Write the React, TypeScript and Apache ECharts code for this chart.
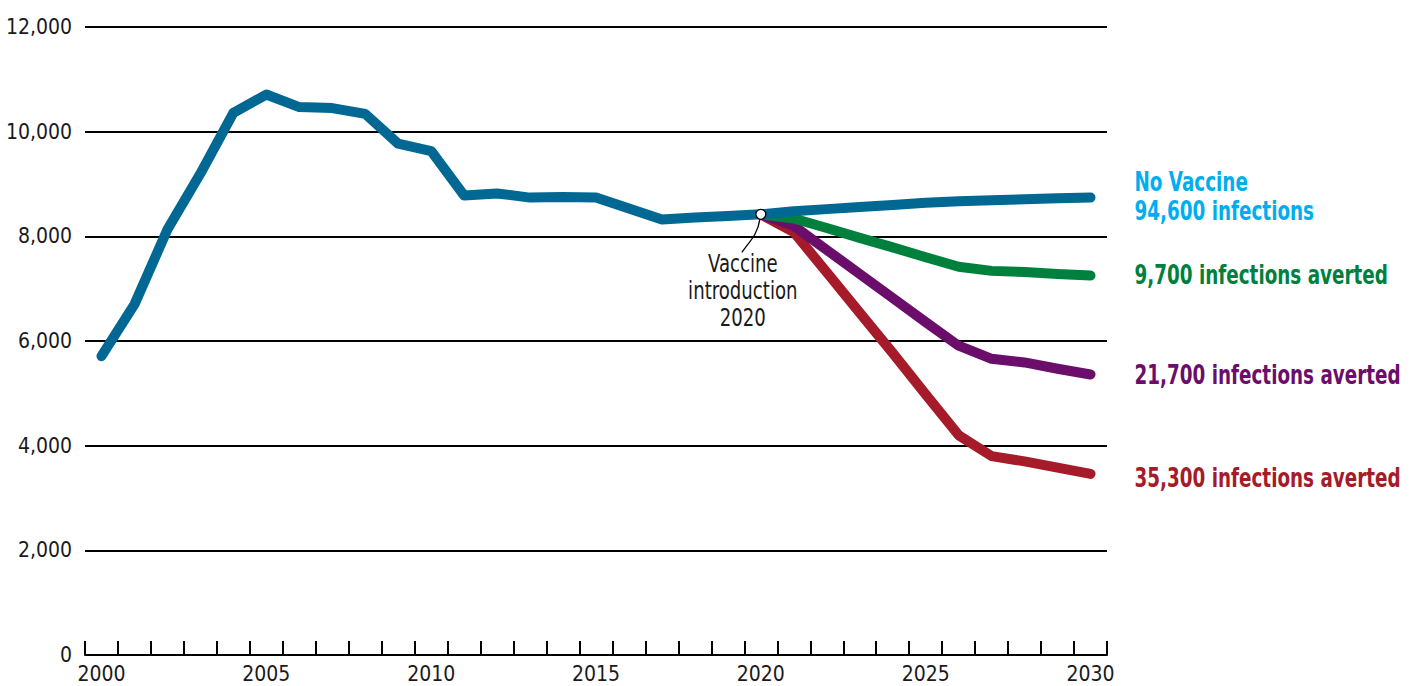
import React, { useEffect, useRef } from "react";
import * as echarts from "echarts";

const years = [
  "2000", "2001", "2002", "2003", "2004", "2005", "2006", "2007", "2008", "2009",
  "2010", "2011", "2012", "2013", "2014", "2015", "2016", "2017", "2018", "2019",
  "2020", "2021", "2022", "2023", "2024", "2025", "2026", "2027", "2028", "2029", "2030",
];

const noVaccine = [
  5710, 6700, 8130, 9200, 10360, 10710, 10470, 10450, 10340, 9770,
  9630, 8780, 8820, 8740, 8750, 8740, 8530, 8320, 8360, 8390,
  8420, 8480, 8520, 8560, 8600, 8640, 8670, 8690, 8710, 8730, 8740,
];

const pre = Array(20).fill(null);
const scenarioLow = [...pre, 8420, 8340, 8160, 7970, 7790, 7600, 7420, 7340, 7320, 7280, 7250];
const scenarioMid = [...pre, 8420, 8200, 7740, 7280, 6820, 6360, 5910, 5660, 5590, 5470, 5360];
const scenarioHigh = [...pre, 8420, 8080, 7310, 6540, 5770, 4980, 4200, 3800, 3700, 3580, 3460];

const yTicks = [0, 2000, 4000, 6000, 8000, 10000, 12000];
const labelYears = ["2000", "2005", "2010", "2015", "2020", "2025", "2030"];

const introYear = "2020";
const introValue = 8420;

const FONT = '"Liberation Sans Narrow", "Arial Narrow", "DejaVu Sans Condensed", "DejaVu Sans", sans-serif';

const C = {
  blueLine: "#006892",
  blueText: "#00AEEF",
  green: "#00803D",
  purple: "#6B0E6B",
  red: "#A61B29",
  ink: "#1a1a1a",
};

const endLabels = [
  { text: "35,300 infections averted", data: scenarioHigh, color: C.red, dy: 4 },
  { text: "21,700 infections averted", data: scenarioMid, color: C.purple, dy: 1 },
  { text: "9,700 infections averted", data: scenarioLow, color: C.green, dy: 0 },
  { text: "No Vaccine\n94,600 infections", data: noVaccine, color: C.blueText, dy: -1 },
];

function line(name: string, data: (number | null)[], color: string, z: number, extra: any = {}) {
  return {
    name,
    type: "line",
    data,
    z,
    symbol: "none",
    connectNulls: false,
    lineStyle: { color, width: 10, cap: "round", join: "round" },
    itemStyle: { color },
    ...extra,
  };
}

export default function App() {
  const ref = useRef<HTMLDivElement>(null);
  useEffect(() => {
    document.body.style.margin = "0";
    const chart = echarts.init(ref.current!, null, { renderer: "svg" });
    chart.setOption({
      animation: false,
      backgroundColor: "#ffffff",
      grid: { left: 85, right: 311, top: 27, bottom: 31, containLabel: false },
      xAxis: {
        type: "category",
        data: years,
        boundaryGap: true,
        axisLine: { show: true, lineStyle: { color: "#000", width: 2 } },
        axisTick: { show: true, inside: true, length: 14, interval: 0, lineStyle: { color: "#000", width: 2 } },
        axisLabel: {
          interval: (_i: number, v: string) => labelYears.includes(v),
          color: C.ink,
          fontFamily: FONT,
          fontSize: 21,
          margin: 8,
        },
        splitLine: { show: false },
      },
      yAxis: {
        type: "value",
        min: yTicks[0],
        max: yTicks[yTicks.length - 1],
        interval: 2000,
        axisLine: { show: false },
        axisTick: { show: false },
        axisLabel: {
          color: C.ink,
          fontFamily: FONT,
          fontSize: 21,
          margin: 13,
          formatter: (v: number) => v.toLocaleString("en-US"),
        },
        splitLine: { show: true, lineStyle: { color: "#000", width: 2 } },
      },
      series: [
        line("35,300 averted", scenarioHigh, C.red, 2),
        line("21,700 averted", scenarioMid, C.purple, 3),
        line("9,700 averted", scenarioLow, C.green, 4),
        line("No Vaccine", noVaccine, C.blueLine, 5, {
          markPoint: {
            z: 10,
            symbol: "circle",
            symbolSize: 10,
            silent: true,
            itemStyle: { color: "#fff", borderColor: "#000", borderWidth: 1.3 },
            label: { show: false },
            data: [{ coord: [introYear, introValue] }],
          },
        }),
      ],
    });

    const toPx = (x: string, y: number) =>
      chart.convertToPixel({ xAxisIndex: 0, yAxisIndex: 0 }, [x, y]) as number[];
    const p = toPx(introYear, introValue);
    const lastYear = years[years.length - 1];

    const labelGraphics = endLabels.map((l) => {
      const e = toPx(lastYear, l.data[l.data.length - 1] as number);
      return {
        type: "text",
        z: 20,
        x: e[0] + 44,
        y: e[1] + l.dy,
        scaleX: 0.785,
        style: {
          text: l.text,
          fill: l.color,
          fontSize: 26,
          fontWeight: "bold",
          fontFamily: FONT,
          lineHeight: 29,
          align: "left",
          verticalAlign: "middle",
        },
      };
    });

    chart.setOption({
      graphic: [
        {
          type: "bezierCurve",
          z: 20,
          shape: {
            x1: p[0] - 1,
            y1: p[1] + 5,
            cpx1: p[0] - 3,
            cpy1: p[1] + 20,
            cpx2: p[0] - 12,
            cpy2: p[1] + 28,
            x2: p[0] - 19,
            y2: p[1] + 38,
          },
          style: { stroke: "#000", lineWidth: 1.3, fill: null },
        },
        {
          type: "text",
          z: 20,
          x: p[0] - 18,
          y: p[1] + 35,
          scaleX: 0.84,
          style: {
            text: "Vaccine\nintroduction\n2020",
            fill: C.ink,
            fontSize: 24,
            fontFamily: FONT,
            lineHeight: 27,
            align: "center",
            verticalAlign: "top",
          },
        },
        ...labelGraphics,
      ],
    });

    return () => chart.dispose();
  }, []);
  return <div ref={ref} style={{ position: "absolute", left: 0, top: 0, width: 1418, height: 686 }} />;
}
